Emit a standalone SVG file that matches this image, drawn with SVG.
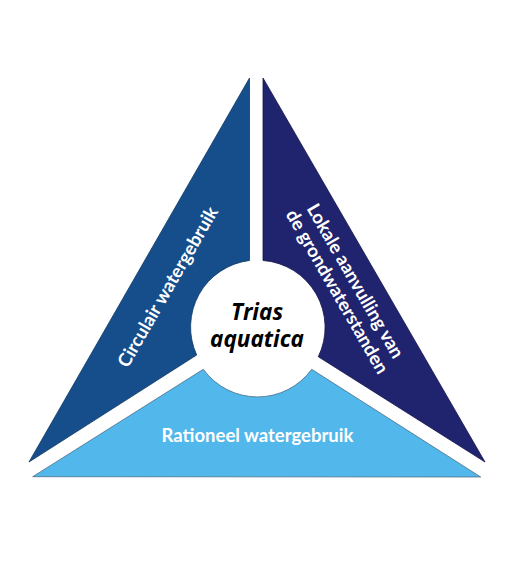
<svg xmlns="http://www.w3.org/2000/svg" width="515" height="580" viewBox="0 0 515 580">
<style>
.lbl{font-family:Lato,"Open Sans","Liberation Sans",sans-serif;font-weight:bold;font-size:18.5px;fill:#ffffff;text-anchor:middle}
.ctr{font-family:"Open Sans","Liberation Sans",sans-serif;font-weight:bold;font-style:italic;font-size:22.5px;fill:#000000;text-anchor:middle}
</style>
<rect width="515" height="580" fill="#ffffff"/>
<g id="circulair">
<path d="M249.5,78 L249.5,260.5 A67,67 0 0 0 196.7,355 L29,462 Z" fill="#164e8c" stroke="#0e3866" stroke-width="0.8"/>
<text class="lbl" transform="translate(168,287) rotate(-60)" y="6">Circulair watergebruik</text>
</g>
<g id="lokale">
<path d="M263,78 L263,260.5 A67,67 0 0 1 318.3,356.7 L485,462 Z" fill="#20246e" stroke="#14174c" stroke-width="0.8"/>
<text class="lbl" transform="translate(346,286.5) rotate(60)"><tspan x="0" y="-4.5">Lokale aanvulling van</tspan><tspan x="0" y="16.5">de grondwaterstanden</tspan></text>
</g>
<g id="rationeel">
<path d="M32.7,476.7 L203.3,369.3 A67,67 0 0 0 311.7,369.3 L480.7,477 Z" fill="#52b7ea" stroke="#4a6f8a" stroke-width="0.8"/>
<text class="lbl" x="257.5" y="442">Rationeel watergebruik</text>
</g>
<g id="trias">
<text class="ctr" x="257" y="319.5"><tspan x="257">Trias</tspan><tspan x="257" dy="27.5">aquatica</tspan></text>
</g>
<g id="connectors"/>
</svg>
